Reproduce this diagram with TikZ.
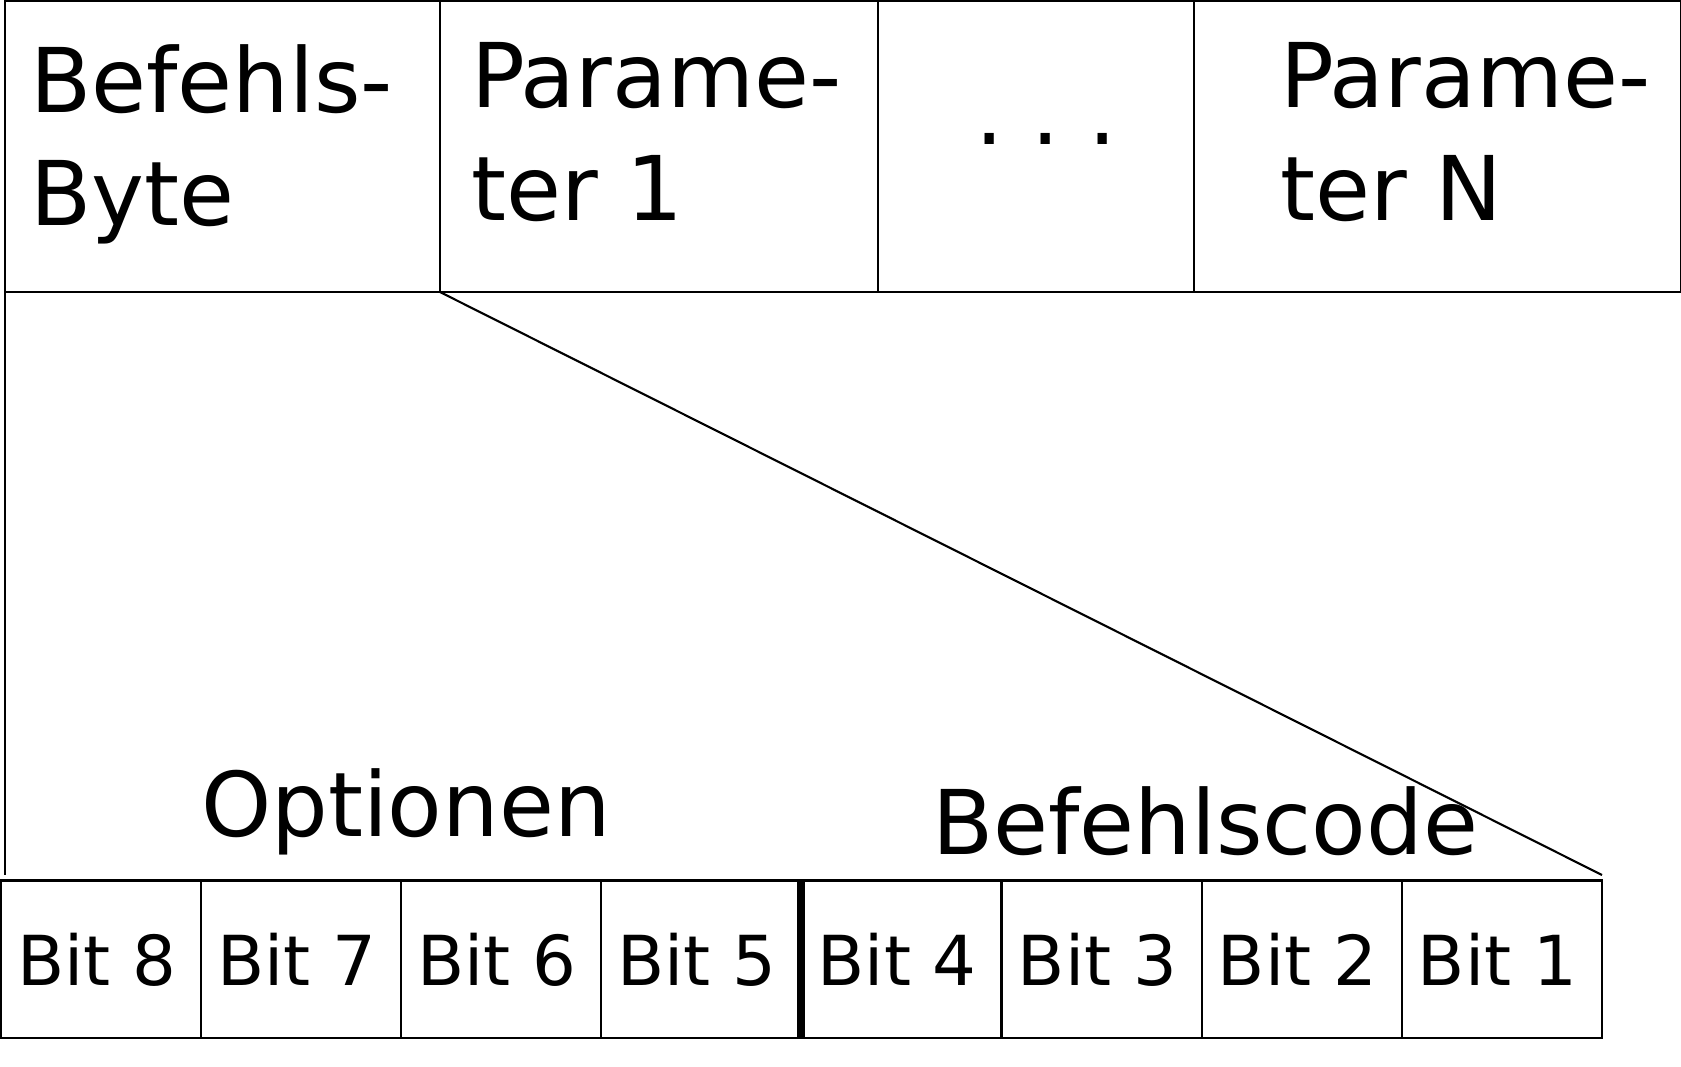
\documentclass[tikz,border=0pt]{standalone}
\usepackage{fontspec}
\setmainfont{DejaVu Sans}
\usetikzlibrary{positioning}

\begin{document}
\begin{tikzpicture}[
    x=0.01cm, y=-0.01cm,
    line width=0.6pt,
    field/.style={rectangle, draw, inner sep=0pt, outer sep=0pt, minimum height=2.91cm},
    bitcell/.style={rectangle, draw, inner sep=0pt, outer sep=0pt, minimum width=2cm,
        minimum height=1.57cm, text depth=0pt, font=\fontsize{19.6}{23}\selectfont},
    bigtext/.style={anchor=base west, inner sep=0pt, align=left, font=\fontsize{25.4}{31.9}\selectfont}
]
    \useasboundingbox (0,0) rectangle (1681,1066);

    % Befehlsrahmen
    \node[field, minimum width=4.345cm] (cmd) at (222.75,146.5) {};
    \node[field, minimum width=4.38cm, right=0pt of cmd] (par1) {};
    \node[field, minimum width=3.15cm, right=0pt of par1] (more) {};
    \node[field, minimum width=4.87cm, right=0pt of more] (parN) {};

    % base = Grundlinie der letzten Zeile
    \node[bigtext] (cmdtext) at (29,225) {Befehls-\\Byte};
    \node[bigtext] (par1text) at (470,220) {Parame-\\ter 1};
    \node[bigtext] (moretext) at (974,144) {.\ .\ .};
    \node[bigtext] (parNtext) at (1279,220) {Parame-\\ter N};

    % Befehls-Byte im Detail
    \node[bitcell] (bit8) at (101,959) {\hspace*{-2.4pt}Bit 8};
    \foreach \i [remember=\i as \prev (initially 8)] in {7,...,1}
        \node[bitcell, right=0pt of bit\prev] (bit\i) {\hspace*{-2.4pt}Bit \i};
    \draw[line width=2.3pt] (bit5.north east) -- (bit5.south east);

    \node[bigtext] (opt) at (200,836) {Optionen};
    \node[bigtext] (code) at (931,854) {Befehlscode};

    \coordinate (bitrow) at (0,875);
    \coordinate (zoomL) at (cmd.south west |- bitrow);
    \coordinate (zoomR) at (1602,875);
    \draw (cmd.south west) -- (zoomL);
    \draw (cmd.south east) -- (zoomR);
\end{tikzpicture}
\end{document}
